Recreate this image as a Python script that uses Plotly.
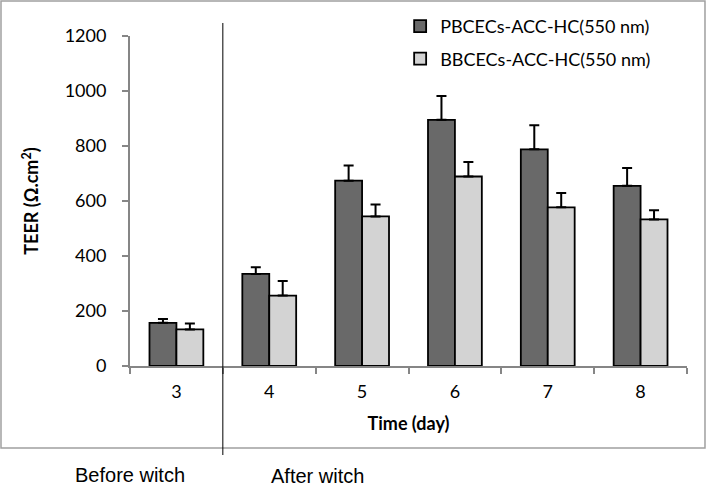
import plotly.graph_objects as go

days = ["3", "4", "5", "6", "7", "8"]
pbcecs = [157, 335, 674, 895, 788, 655]
pbcecs_err = [14, 24, 55, 87, 87, 65]
bbcecs = [133, 256, 544, 689, 577, 533]
bbcecs_err = [22, 53, 43, 53, 52, 33]
series_names = ["PBCECs-ACC-HC(550 nm)", "BBCECs-ACC-HC(550 nm)"]
y_ticks = [0, 200, 400, 600, 800, 1000, 1200]

tick_font = dict(family="Lato, Open Sans, sans-serif", size=18, color="#000000")
title_font = dict(family="Lato, Open Sans, sans-serif", size=18, color="#000000")

fig = go.Figure()
fig.add_trace(go.Bar(
    x=days, y=pbcecs, name=series_names[0], legendgroup="a",
    marker=dict(color="#696969", line=dict(color="#000000", width=1.8)),
    error_y=dict(type="data", array=pbcecs_err, arrayminus=[0]*len(days), symmetric=False,
                 color="#000000", thickness=2, width=5),
))
fig.add_trace(go.Bar(
    x=days, y=bbcecs, name=series_names[1], legendgroup="b",
    marker=dict(color="#d3d3d3", line=dict(color="#000000", width=1.8)),
    error_y=dict(type="data", array=bbcecs_err, arrayminus=[0]*len(days), symmetric=False,
                 color="#000000", thickness=2, width=5),
))

fig.update_layout(
    width=707, height=486,
    margin=dict(l=130, r=20, t=36, b=120, autoexpand=False),
    paper_bgcolor="white", plot_bgcolor="white",
    barmode="group", bargap=0.42, bargroupgap=0,
    showlegend=True,
    legend=dict(x=0.485, y=1.085, xanchor="left", yanchor="top",
                font=dict(family="Lato, Open Sans, sans-serif", size=18, color="#000000"),
                bgcolor="rgba(0,0,0,0)", tracegroupgap=6, itemwidth=30),
    xaxis=dict(
        type="category", showline=True, linecolor="#868686", linewidth=2,
        ticks="outside", tickson="boundaries", ticklen=6, tickcolor="#868686", tickwidth=2,
        tickfont=tick_font, showgrid=False, automargin=False, ticklabelstandoff=8,
        title=dict(text="<b>Time (day)</b>", font=title_font, standoff=17),
    ),
    yaxis=dict(
        range=[0, 1200], tickvals=y_ticks, showline=True, linecolor="#868686", linewidth=2,
        ticks="outside", ticklen=6, tickcolor="#868686", tickwidth=2,
        tickfont=tick_font, showgrid=False, zeroline=False, automargin=False, ticklabelstandoff=12,
        title=dict(text="<b>TEER (Ω.cm<sup>2</sup>)</b>", font=title_font, standoff=21),
    ),
    shapes=[
        dict(type="rect", xref="paper", yref="paper", x0=-0.2316, x1=1.0323, y0=-0.2485, y1=1.106,
             line=dict(color="#a0a0a0", width=1.5), fillcolor="rgba(0,0,0,0)", layer="below"),
        dict(type="line", xref="x", yref="paper", x0=0.5, x1=0.5, y0=-0.2697, y1=1.0394,
             line=dict(color="#000000", width=1)),
    ],
    annotations=[
        dict(text="Before witch", xref="paper", yref="paper", x=(130-130)/557, y=(366-475)/330,
             xanchor="center", yanchor="middle", showarrow=False,
             font=dict(family="Liberation Sans, Arial, sans-serif", size=20, color="#000000")),
        dict(text="After witch", xref="paper", yref="paper", x=(317-130)/557, y=(366-476)/330,
             xanchor="center", yanchor="middle", showarrow=False,
             font=dict(family="Liberation Sans, Arial, sans-serif", size=20, color="#000000")),
    ],
)

fig.write_html("out.html", config={"displayModeBar": False},
               post_script="document.body.style.margin='0px';document.body.style.overflow='hidden';")
